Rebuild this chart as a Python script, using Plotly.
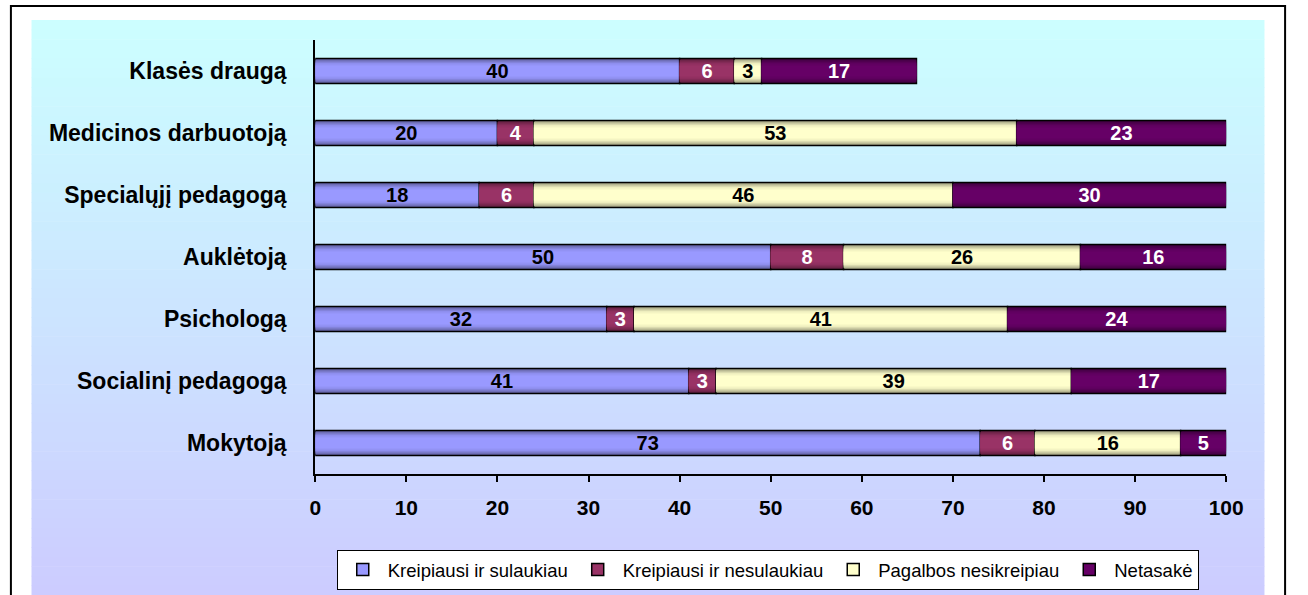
import numpy as np
import plotly.graph_objects as go

# ---- data ----
categories = ["Mokytoją", "Socialinį pedagogą", "Psichologą", "Auklėtoją",
              "Specialųjį pedagogą", "Medicinos darbuotoją", "Klasės draugą"]
series_names = ["Kreipiausi ir sulaukiau", "Kreipiausi ir nesulaukiau",
                "Pagalbos nesikreipiau", "Netasakė"]
sulaukiau = [73, 41, 32, 50, 18, 20, 40]
nesulaukiau = [6, 3, 3, 8, 6, 4, 6]
nesikreipiau = [16, 39, 41, 26, 46, 53, 3]
netasake = [5, 17, 24, 16, 30, 23, 17]
x_ticks = [0, 10, 20, 30, 40, 50, 60, 70, 80, 90, 100]

series_values = [sulaukiau, nesulaukiau, nesikreipiau, netasake]
base_colors = ["#9999FF", "#993366", "#FFFFCC", "#660066"]
text_colors = ["black", "white", "black", "white"]

W, H = 1308, 595
FONT = "Arial, Liberation Sans, sans-serif"


def hex_to_rgb(h):
    h = h.lstrip("#")
    return tuple(int(h[i:i + 2], 16) for i in (0, 2, 4))


def mix(h, k):
    r, g, b = hex_to_rgb(h)
    return "rgb(%d,%d,%d)" % (r * (1 - k), g * (1 - k), b * (1 - k))


fig = go.Figure()

vals = np.array(series_values, dtype=float)
bases = np.vstack([np.zeros(vals.shape[1]), np.cumsum(vals, axis=0)[:-1]])

layers = [(0.40, 0.45), (0.36, 0.28), (0.31, 0.14), (0.25, 0.04), (0.18, 0.0)]

for i, name in enumerate(series_names):
    for j, (w, k) in enumerate(layers):
        last = j == len(layers) - 1
        fig.add_trace(go.Bar(
            y=categories, x=vals[i], base=bases[i], orientation="h",
            width=w,
            marker=dict(color=mix(base_colors[i], k),
                        line=dict(color="black", width=1.5 if j == 0 else 0)),
            text=[str(int(v)) for v in vals[i]] if last else None,
            textposition="inside" if last else "none",
            insidetextanchor="middle",
            constraintext="none",
            textangle=0,
            textfont=dict(family=FONT, size=20, color=text_colors[i], weight="bold"),
            showlegend=False, hoverinfo="skip", cliponaxis=False,
        ))

# legend entries
for i, name in enumerate(series_names):
    fig.add_trace(go.Bar(
        y=[None], x=[None], orientation="h", name=name,
        marker=dict(color=base_colors[i], line=dict(color="black", width=1.5)),
        showlegend=True,
    ))

# background gradient + border
shapes = []
N = 60
top_rgb = np.array([204, 255, 255])
bot_rgb = np.array([204, 204, 255])
y_top, y_bot = 20, 595
for s in range(N):
    t = (s + 0.5) / N
    c = top_rgb * (1 - t) + bot_rgb * t
    ya = y_top + (y_bot - y_top) * s / N
    yb = y_top + (y_bot - y_top) * (s + 1) / N + 0.6
    shapes.append(dict(type="rect", xref="paper", yref="paper", layer="below",
                       x0=26 / W, x1=1282 / W, y0=1 - yb / H, y1=1 - ya / H,
                       line=dict(width=0),
                       fillcolor="rgb(%d,%d,%d)" % tuple(c.astype(int))))
shapes.append(dict(type="rect", xref="paper", yref="paper", layer="above",
                   x0=5 / W, x1=1303 / W, y0=-0.05, y1=1 - 6 / H,
                   line=dict(color="black", width=2), fillcolor="rgba(0,0,0,0)"))

fig.update_layout(
    margin=dict(l=0, r=0, t=0, b=0),
    paper_bgcolor="white", plot_bgcolor="rgba(0,0,0,0)",
    barmode="overlay",
    shapes=shapes,
    font=dict(family=FONT, color="black"),
    xaxis=dict(domain=[315 / W, 1243 / W], range=[0, 100],
               tickvals=x_ticks, ticks="outside", ticklen=6, tickwidth=2,
               tickcolor="black", showline=True, linecolor="black", linewidth=2,
               showgrid=False, zeroline=False,
               tickfont=dict(size=21, family=FONT, weight="bold"),
               ticklabelstandoff=8),
    yaxis=dict(domain=[1 - 474 / H, 1 - 40 / H], range=[-0.5, 6.5],
               categoryorder="array", categoryarray=categories,
               showline=True, linecolor="black", linewidth=2, showgrid=False,
               ticks="", tickfont=dict(size=23, family=FONT, weight="bold"),
               ticklabelstandoff=22),
    legend=dict(orientation="h", x=776 / W, xanchor="center",
                y=1 - 570 / H, yanchor="middle",
                bgcolor="white", bordercolor="black", borderwidth=1,
                font=dict(size=18.5, family=FONT), itemwidth=40,
                traceorder="normal"),
)

fig.write_html("out.html",
               config={"displayModeBar": False},
               default_width="100vw",
               default_height="100vh; position:fixed; top:0; left:0",
               post_script="document.body.style.margin='0';"
                           "document.body.style.overflow='hidden';")
